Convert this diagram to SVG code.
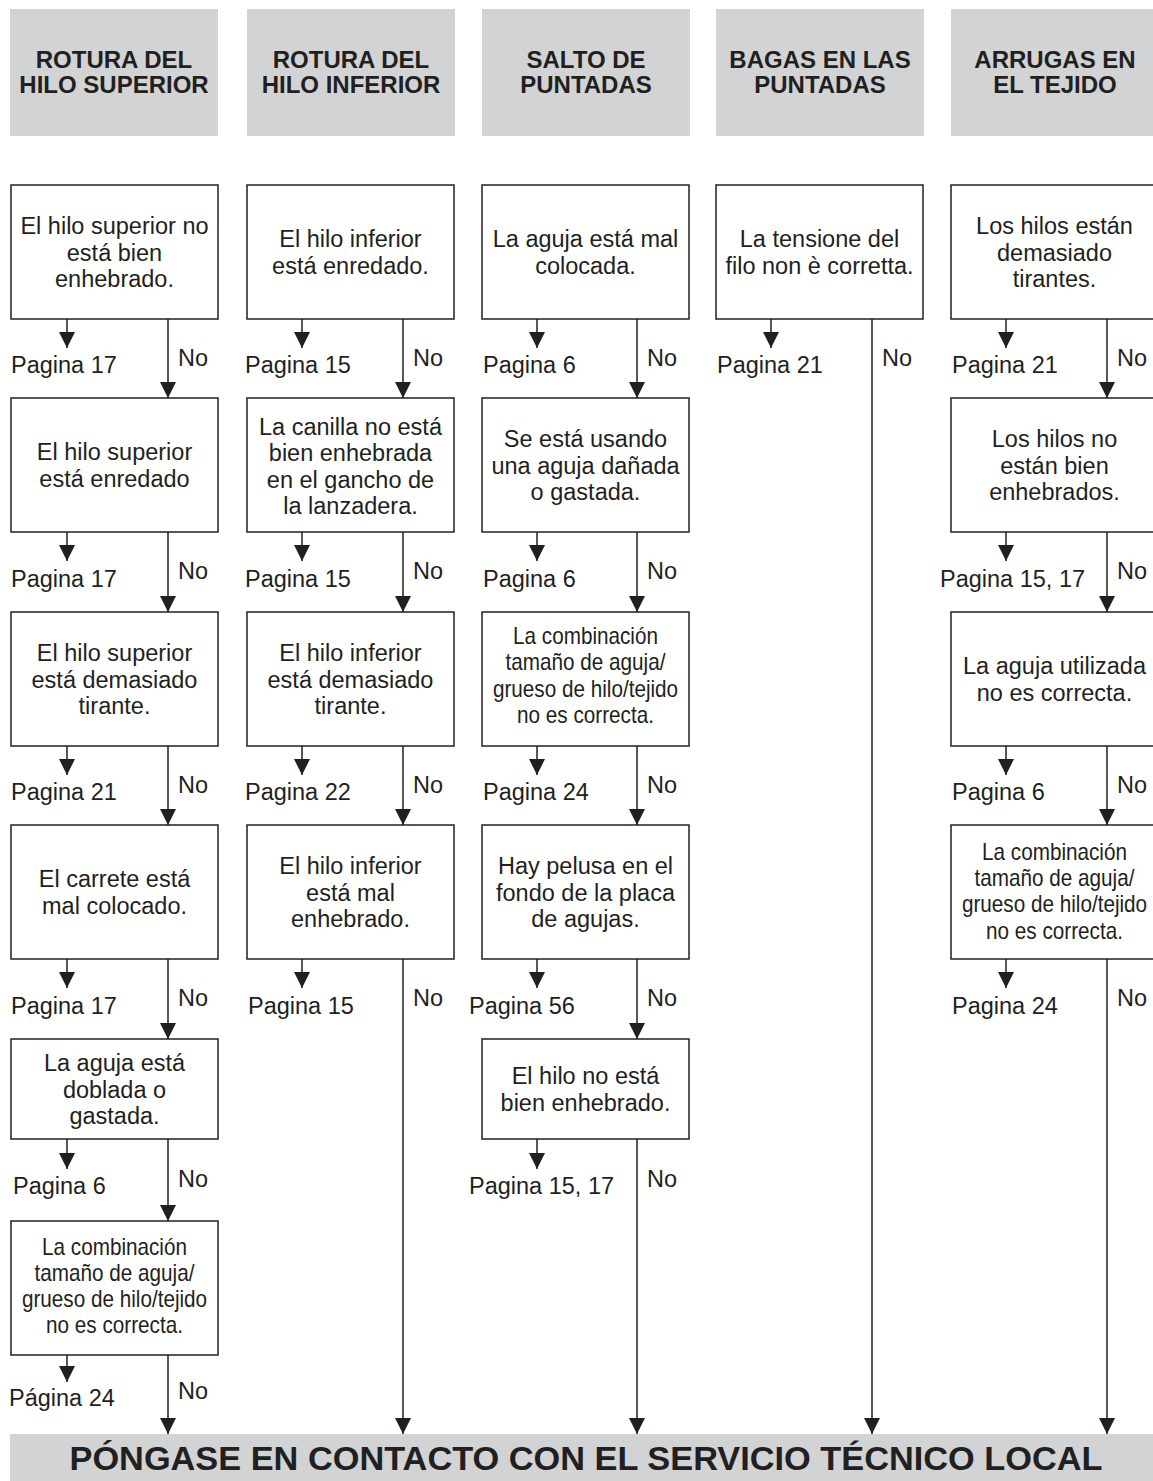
<svg xmlns="http://www.w3.org/2000/svg" width="1153" height="1481" viewBox="0 0 1153 1481">
<defs>
<style>
.hdr{fill:#d1d3d4}
.ht{font-family:"Liberation Sans",Arial,sans-serif;font-weight:bold;font-size:24px;fill:#231f20;text-anchor:middle}
.box{fill:#fff;stroke:#231f20;stroke-width:1.5}
.bt{font-family:"Liberation Sans",Arial,sans-serif;font-size:23.5px;fill:#231f20;text-anchor:middle}
.ct{font-family:"Liberation Sans",Arial,sans-serif;font-size:23px;fill:#231f20;text-anchor:middle}
.lb{font-family:"Liberation Sans",Arial,sans-serif;font-size:23.5px;fill:#231f20}
.cn{fill:none;stroke:#231f20;stroke-width:1.5;marker-end:url(#ah)}
.ban{font-family:"Liberation Sans",Arial,sans-serif;font-weight:bold;font-size:33px;fill:#231f20;text-anchor:middle}
</style>
<marker id="ah" markerUnits="userSpaceOnUse" markerWidth="16" markerHeight="16" viewBox="0 0 16 16" refX="16" refY="8" orient="auto">
<path d="M0,0 L16,8 L0,16 Z" fill="#231f20"/>
</marker>
</defs>
<rect width="1153" height="1481" fill="#fff"/>

<!-- Headers -->
<g id="h1"><rect class="hdr" x="10" y="9" width="208" height="127"/><text class="ht" x="114" y="68">ROTURA DEL<tspan x="114" dy="25">HILO SUPERIOR</tspan></text></g>
<g id="h2"><rect class="hdr" x="247" y="9" width="208" height="127"/><text class="ht" x="351" y="68">ROTURA DEL<tspan x="351" dy="25">HILO INFERIOR</tspan></text></g>
<g id="h3"><rect class="hdr" x="482" y="9" width="208" height="127"/><text class="ht" x="586" y="68">SALTO DE<tspan x="586" dy="25">PUNTADAS</tspan></text></g>
<g id="h4"><rect class="hdr" x="716" y="9" width="208" height="127"/><text class="ht" x="820" y="68">BAGAS EN LAS<tspan x="820" dy="25">PUNTADAS</tspan></text></g>
<g id="h5"><rect class="hdr" x="951" y="9" width="210" height="127"/><text class="ht" x="1055" y="68">ARRUGAS EN<tspan x="1055" dy="25">EL TEJIDO</tspan></text></g>

<!-- Column 1 -->
<g id="c1b1"><rect class="box" x="11" y="185" width="207" height="134"/><text class="bt" x="114.5" y="234">El hilo superior no<tspan x="114.5" dy="26.5">está bien</tspan><tspan x="114.5" dy="26.5">enhebrado.</tspan></text></g>
<g id="c1b2"><rect class="box" x="11" y="398" width="207" height="134"/><text class="bt" x="114.5" y="460.25">El hilo superior<tspan x="114.5" dy="26.5">está enredado</tspan></text></g>
<g id="c1b3"><rect class="box" x="11" y="612" width="207" height="134"/><text class="bt" x="114.5" y="661">El hilo superior<tspan x="114.5" dy="26.5">está demasiado</tspan><tspan x="114.5" dy="26.5">tirante.</tspan></text></g>
<g id="c1b4"><rect class="box" x="11" y="825" width="207" height="134"/><text class="bt" x="114.5" y="887.25">El carrete está<tspan x="114.5" dy="26.5">mal colocado.</tspan></text></g>
<g id="c1b5"><rect class="box" x="11" y="1039" width="207" height="100"/><text class="bt" x="114.5" y="1071">La aguja está<tspan x="114.5" dy="26.5">doblada o</tspan><tspan x="114.5" dy="26.5">gastada.</tspan></text></g>
<g id="c1b6"><rect class="box" x="11" y="1221" width="207" height="134"/><text class="ct" transform="translate(114.5 1255) scale(0.9 1)" x="0" y="0">La combinación<tspan x="0" dy="26">tamaño de aguja/</tspan><tspan x="0" dy="26">grueso de hilo/tejido</tspan><tspan x="0" dy="26">no es correcta.</tspan></text></g>

<!-- Column 2 -->
<g id="c2b1"><rect class="box" x="247" y="185" width="207" height="134"/><text class="bt" x="350.5" y="247.25">El hilo inferior<tspan x="350.5" dy="26.5">está enredado.</tspan></text></g>
<g id="c2b2"><rect class="box" x="247" y="398" width="207" height="134"/><text class="bt" x="350.5" y="434.5">La canilla no está<tspan x="350.5" dy="26.5">bien enhebrada</tspan><tspan x="350.5" dy="26.5">en el gancho de</tspan><tspan x="350.5" dy="26.5">la lanzadera.</tspan></text></g>
<g id="c2b3"><rect class="box" x="247" y="612" width="207" height="134"/><text class="bt" x="350.5" y="661">El hilo inferior<tspan x="350.5" dy="26.5">está demasiado</tspan><tspan x="350.5" dy="26.5">tirante.</tspan></text></g>
<g id="c2b4"><rect class="box" x="247" y="825" width="207" height="134"/><text class="bt" x="350.5" y="874">El hilo inferior<tspan x="350.5" dy="26.5">está mal</tspan><tspan x="350.5" dy="26.5">enhebrado.</tspan></text></g>

<!-- Column 3 -->
<g id="c3b1"><rect class="box" x="482" y="185" width="207" height="134"/><text class="bt" x="585.5" y="247.25">La aguja está mal<tspan x="585.5" dy="26.5">colocada.</tspan></text></g>
<g id="c3b2"><rect class="box" x="482" y="398" width="207" height="134"/><text class="bt" x="585.5" y="447">Se está usando<tspan x="585.5" dy="26.5">una aguja dañada</tspan><tspan x="585.5" dy="26.5">o gastada.</tspan></text></g>
<g id="c3b3"><rect class="box" x="482" y="612" width="207" height="134"/><text class="ct" transform="translate(585.5 644) scale(0.9 1)" x="0" y="0">La combinación<tspan x="0" dy="26.5">tamaño de aguja/</tspan><tspan x="0" dy="26.5">grueso de hilo/tejido</tspan><tspan x="0" dy="26.5">no es correcta.</tspan></text></g>
<g id="c3b4"><rect class="box" x="482" y="825" width="207" height="134"/><text class="bt" x="585.5" y="874">Hay pelusa en el<tspan x="585.5" dy="26.5">fondo de la placa</tspan><tspan x="585.5" dy="26.5">de agujas.</tspan></text></g>
<g id="c3b5"><rect class="box" x="482" y="1039" width="207" height="100"/><text class="bt" x="585.5" y="1084.25">El hilo no está<tspan x="585.5" dy="26.5">bien enhebrado.</tspan></text></g>

<!-- Column 4 -->
<g id="c4b1"><rect class="box" x="716" y="185" width="207" height="134"/><text class="bt" x="819.5" y="247.25">La tensione del<tspan x="819.5" dy="26.5">filo non è corretta.</tspan></text></g>

<!-- Column 5 -->
<g id="c5b1"><rect class="box" x="951" y="185" width="210" height="134"/><text class="bt" x="1054.5" y="234">Los hilos están<tspan x="1054.5" dy="26.5">demasiado</tspan><tspan x="1054.5" dy="26.5">tirantes.</tspan></text></g>
<g id="c5b2"><rect class="box" x="951" y="398" width="210" height="134"/><text class="bt" x="1054.5" y="447">Los hilos no<tspan x="1054.5" dy="26.5">están bien</tspan><tspan x="1054.5" dy="26.5">enhebrados.</tspan></text></g>
<g id="c5b3"><rect class="box" x="951" y="612" width="210" height="134"/><text class="bt" x="1054.5" y="674.25">La aguja utilizada<tspan x="1054.5" dy="26.5">no es correcta.</tspan></text></g>
<g id="c5b4"><rect class="box" x="951" y="825" width="210" height="134"/><text class="ct" transform="translate(1054.5 860) scale(0.9 1)" x="0" y="0">La combinación<tspan x="0" dy="26.2">tamaño de aguja/</tspan><tspan x="0" dy="26.2">grueso de hilo/tejido</tspan><tspan x="0" dy="26.2">no es correcta.</tspan></text></g>

<!-- Banner -->
<g id="banner"><rect class="hdr" x="10" y="1434" width="1143" height="47"/><text class="ban" x="586" y="1470" textLength="1033" lengthAdjust="spacingAndGlyphs">PÓNGASE EN CONTACTO CON EL SERVICIO TÉCNICO LOCAL</text></g>

<!-- Connectors -->
<g id="connectors">
<line class="cn" x1="67" y1="319" x2="67" y2="348"/>
<line class="cn" x1="168" y1="319" x2="168" y2="398"/>
<line class="cn" x1="67" y1="532" x2="67" y2="561"/>
<line class="cn" x1="168" y1="532" x2="168" y2="612"/>
<line class="cn" x1="67" y1="746" x2="67" y2="775"/>
<line class="cn" x1="168" y1="746" x2="168" y2="825"/>
<line class="cn" x1="67" y1="959" x2="67" y2="988"/>
<line class="cn" x1="168" y1="959" x2="168" y2="1039"/>
<line class="cn" x1="67" y1="1139" x2="67" y2="1169"/>
<line class="cn" x1="168" y1="1139" x2="168" y2="1221"/>
<line class="cn" x1="67" y1="1355" x2="67" y2="1382"/>
<line class="cn" x1="168" y1="1355" x2="168" y2="1434"/>
<line class="cn" x1="302" y1="319" x2="302" y2="348"/>
<line class="cn" x1="403" y1="319" x2="403" y2="398"/>
<line class="cn" x1="302" y1="532" x2="302" y2="561"/>
<line class="cn" x1="403" y1="532" x2="403" y2="612"/>
<line class="cn" x1="302" y1="746" x2="302" y2="775"/>
<line class="cn" x1="403" y1="746" x2="403" y2="825"/>
<line class="cn" x1="302" y1="959" x2="302" y2="988"/>
<line class="cn" x1="403" y1="959" x2="403" y2="1434"/>
<line class="cn" x1="537" y1="319" x2="537" y2="348"/>
<line class="cn" x1="637" y1="319" x2="637" y2="398"/>
<line class="cn" x1="537" y1="532" x2="537" y2="561"/>
<line class="cn" x1="637" y1="532" x2="637" y2="612"/>
<line class="cn" x1="537" y1="746" x2="537" y2="775"/>
<line class="cn" x1="637" y1="746" x2="637" y2="825"/>
<line class="cn" x1="537" y1="959" x2="537" y2="988"/>
<line class="cn" x1="637" y1="959" x2="637" y2="1039"/>
<line class="cn" x1="537" y1="1139" x2="537" y2="1169"/>
<line class="cn" x1="637" y1="1139" x2="637" y2="1434"/>
<line class="cn" x1="771" y1="319" x2="771" y2="348"/>
<line class="cn" x1="872" y1="319" x2="872" y2="1434"/>
<line class="cn" x1="1006" y1="319" x2="1006" y2="348"/>
<line class="cn" x1="1107" y1="319" x2="1107" y2="398"/>
<line class="cn" x1="1006" y1="532" x2="1006" y2="561"/>
<line class="cn" x1="1107" y1="532" x2="1107" y2="612"/>
<line class="cn" x1="1006" y1="746" x2="1006" y2="775"/>
<line class="cn" x1="1107" y1="746" x2="1107" y2="825"/>
<line class="cn" x1="1006" y1="959" x2="1006" y2="988"/>
<line class="cn" x1="1107" y1="959" x2="1107" y2="1434"/>
</g>

<!-- Labels -->
<g id="labels">
<text class="lb" x="11" y="373">Pagina 17</text><text class="lb" x="178" y="366">No</text>
<text class="lb" x="11" y="587">Pagina 17</text><text class="lb" x="178" y="579">No</text>
<text class="lb" x="11" y="800">Pagina 21</text><text class="lb" x="178" y="793">No</text>
<text class="lb" x="11" y="1014">Pagina 17</text><text class="lb" x="178" y="1006">No</text>
<text class="lb" x="13" y="1194">Pagina 6</text><text class="lb" x="178" y="1187">No</text>
<text class="lb" x="9" y="1406">Página 24</text><text class="lb" x="178" y="1399">No</text>

<text class="lb" x="245" y="373">Pagina 15</text><text class="lb" x="413" y="366">No</text>
<text class="lb" x="245" y="587">Pagina 15</text><text class="lb" x="413" y="579">No</text>
<text class="lb" x="245" y="800">Pagina 22</text><text class="lb" x="413" y="793">No</text>
<text class="lb" x="248" y="1014">Pagina 15</text><text class="lb" x="413" y="1006">No</text>

<text class="lb" x="483" y="373">Pagina 6</text><text class="lb" x="647" y="366">No</text>
<text class="lb" x="483" y="587">Pagina 6</text><text class="lb" x="647" y="579">No</text>
<text class="lb" x="483" y="800">Pagina 24</text><text class="lb" x="647" y="793">No</text>
<text class="lb" x="469" y="1014">Pagina 56</text><text class="lb" x="647" y="1006">No</text>
<text class="lb" x="469" y="1194">Pagina 15, 17</text><text class="lb" x="647" y="1187">No</text>

<text class="lb" x="717" y="373">Pagina 21</text><text class="lb" x="882" y="366">No</text>

<text class="lb" x="952" y="373">Pagina 21</text><text class="lb" x="1117" y="366">No</text>
<text class="lb" x="940" y="587">Pagina 15, 17</text><text class="lb" x="1117" y="579">No</text>
<text class="lb" x="952" y="800">Pagina 6</text><text class="lb" x="1117" y="793">No</text>
<text class="lb" x="952" y="1014">Pagina 24</text><text class="lb" x="1117" y="1006">No</text>
</g>
</svg>
